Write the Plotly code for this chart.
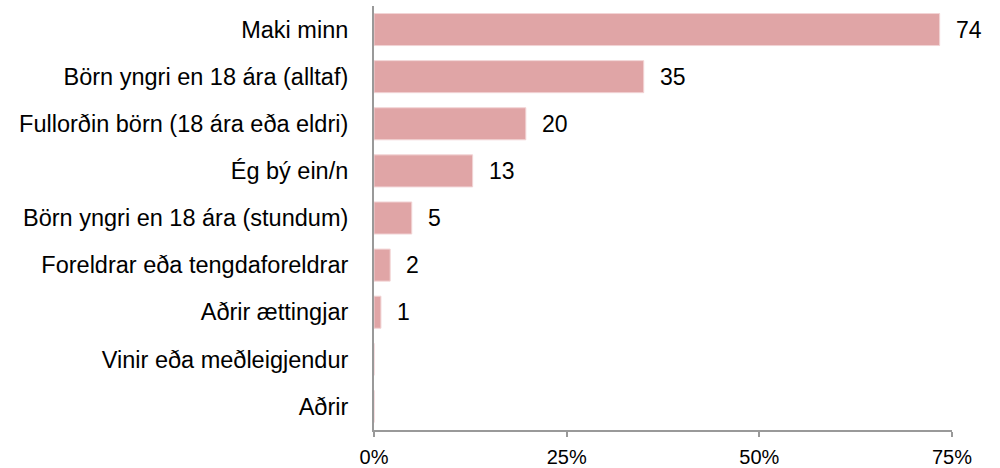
import plotly.graph_objects as go

categories = ["Maki minn", "Börn yngri en 18 ára (alltaf)", "Fullorðin börn (18 ára eða eldri)",
              "Ég bý ein/n", "Börn yngri en 18 ára (stundum)", "Foreldrar eða tengdaforeldrar",
              "Aðrir ættingjar", "Vinir eða meðleigjendur", "Aðrir"]
values = [73.4, 35.0, 19.7, 12.8, 4.9, 2.1, 0.9, 0, 0]
value_labels = ["74", "35", "20", "13", "5", "2", "1", "", ""]
tick_vals = [0, 25, 50, 75]
tick_text = ["0%", "25%", "50%", "75%"]

FONT = "Liberation Sans, Arial, sans-serif"

fig = go.Figure()
fig.add_trace(go.Bar(
    y=categories, x=values, orientation="h",
    marker=dict(color="#e0a5a6", line=dict(color="#f2d4d5", width=1)),
    hoverinfo="skip",
))
for c, v, t in zip(categories, values, value_labels):
    if t:
        fig.add_annotation(x=v, y=c, text=t, showarrow=False, xanchor="left",
                           xshift=14, font=dict(size=23, color="#000000", family=FONT))

fig.update_layout(
    width=1000, height=468,
    margin=dict(l=374, r=48, t=6, b=38),
    paper_bgcolor="white", plot_bgcolor="white",
    bargap=0.32, showlegend=False,
    font=dict(family=FONT, size=24, color="#000000"),
)
fig.update_xaxes(range=[0, 75], tickvals=tick_vals, ticktext=tick_text,
                 showgrid=False, zeroline=False, showline=True, linecolor="#999999",
                 linewidth=2, ticks="outside", tickcolor="#999999", ticklen=5, tickwidth=2,
                 tickfont=dict(size=20), ticklabelstandoff=3, automargin=False, fixedrange=True)
fig.update_yaxes(categoryorder="array", categoryarray=categories[::-1],
                 autorange=False, range=[-0.5, 8.5],
                 showgrid=False, zeroline=False, showline=True, linecolor="#999999",
                 linewidth=2, ticks="", ticklabelstandoff=19, tickfont=dict(size=23.5),
                 automargin=False, fixedrange=True)

fig.write_html("out.html", config={"displayModeBar": False},
               post_script="document.body.style.margin='0';document.body.style.overflow='hidden';")
